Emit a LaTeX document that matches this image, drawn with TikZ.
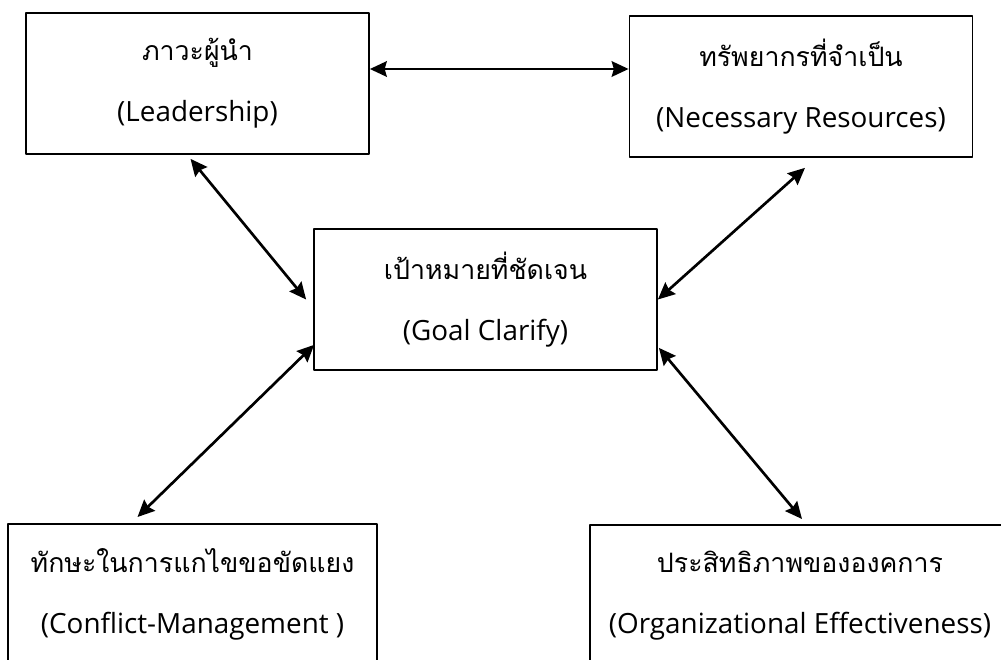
\documentclass[tikz,border=0pt]{standalone}
\usepackage{fontspec}
\setmainfont{Open Sans}
\newfontfamily\thaifont[Script=Thai,Scale=0.96]{Loma}
\usetikzlibrary{arrows.meta}
\tikzset{
  factor/.style={draw, line width=1.2pt, inner sep=0pt, align=center,
    minimum width=8.575cm, minimum height=3.525cm,
    font=\fontsize{19.8}{43.4}\selectfont},
  link/.style={<->, line width=1.9pt}
}
\begin{document}
\begin{tikzpicture}[x=0.025cm, y=-0.025cm, line join=round, >={Stealth[length=12pt,width=11pt,inset=1.5pt]}]
            \useasboundingbox (0,0) rectangle (1001,659);
            \clip (0,0) rectangle (1001,659);
            % boxes
            \node[factor] (lead) at (197.5,83.5) {{\thaifont ภาวะผู้นำ}\\(Leadership)};
            \node[factor] (res) at (801,86.5) {{\thaifont ทรัพยากรที่จำเป็น}\\(Necessary Resources)};
            \node[factor] (goal) at (485.5,299.5) {{\thaifont เป้าหมายที่ชัดเจน}\\(Goal Clarify)};
            \node[factor, anchor=north, minimum width=9.225cm] (conf) at (192.5,523) {{\thaifont ทักษะในการแกไขขอขัดแยง}\\(Conflict-Management )};
            \node[factor, anchor=north, minimum width=10.5cm] (eff) at (800,524) {{\thaifont ประสิทธิภาพขององคการ}\\(Organizational Effectiveness)};
            % links
            \draw[link] ([shift={(0,-14.5)}]lead.east) -- ([shift={(0,-17.5)}]res.west);
            \draw[link] ([shift={(-7,4)}]lead.south) -- ([shift={(-7,0)}]goal.west);
            \draw[link] ([shift={(4,10)}]res.south) -- (goal.east);
            \draw[link] ([shift={(1,-26)}]goal.south west) -- ([shift={(-55,-6)}]conf.north);
            \draw[link] ([shift={(1,-23)}]goal.south east) -- ([shift={(2,-5)}]eff.north);
        \end{tikzpicture}
\end{document}
